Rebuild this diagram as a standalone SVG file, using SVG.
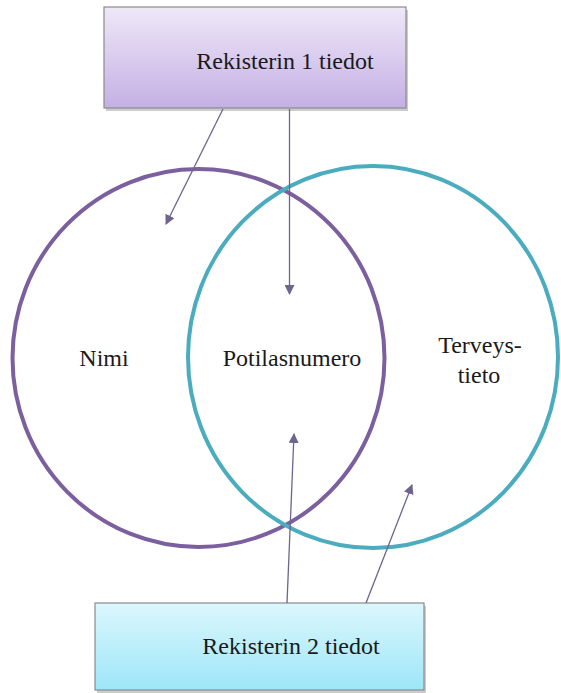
<svg xmlns="http://www.w3.org/2000/svg" width="561" height="693" viewBox="0 0 561 693">
<defs>
<linearGradient id="g1" x1="0" y1="0" x2="0" y2="1">
<stop offset="0" stop-color="#efe8f8"/><stop offset="1" stop-color="#c4b0e4"/>
</linearGradient>
<linearGradient id="g2" x1="0" y1="0" x2="0" y2="1">
<stop offset="0" stop-color="#dcf7fd"/><stop offset="1" stop-color="#9de6f8"/>
</linearGradient>
<marker id="ah" viewBox="0 0 10 10" refX="9" refY="5" markerWidth="10" markerHeight="10" markerUnits="userSpaceOnUse" orient="auto">
<path d="M0,0 L10,5 L0,10 z" fill="#6e6490"/>
</marker>
<style>
.t{font-size:24px;fill:#1a1a1a;text-anchor:middle}
.box{stroke:#8a8a8a;stroke-width:1.2}
.shadow{fill:#9a9a9a;opacity:0.5}
.conn{stroke:#6e6490;stroke-width:1.3;fill:none}
</style>
</defs>
<g id="circle-purple">
<ellipse cx="198.5" cy="358" rx="186" ry="189" fill="none" stroke="#7b5f9e" stroke-width="4"/>
</g>
<g id="circle-teal">
<ellipse cx="373" cy="357" rx="185" ry="191" fill="none" stroke="#4cacbf" stroke-width="4"/>
</g>
<g font-family="'Liberation Serif', 'Times New Roman', serif">
<g id="reg1">
<rect class="shadow" x="106" y="10" width="302" height="101"/>
<rect class="box" x="104" y="7" width="302" height="101" fill="url(#g1)"/>
<text class="t" x="285" y="69">Rekisterin 1 tiedot</text>
</g>
<g id="reg2">
<rect class="shadow" x="97" y="606" width="329" height="87"/>
<rect class="box" x="95" y="603" width="329" height="87" fill="url(#g2)" stroke="#7aa9b3"/>
<text class="t" x="291" y="654">Rekisterin 2 tiedot</text>
</g>
<g id="labels">
<text class="t" x="104" y="366">Nimi</text>
<text class="t" x="292" y="366">Potilasnumero</text>
<text class="t" x="480" y="353">Terveys-</text>
<text class="t" x="479" y="383">tieto</text>
</g>
</g>
<g id="connectors">
<line class="conn" x1="223" y1="109" x2="166" y2="224" marker-end="url(#ah)"/>
<line class="conn" x1="289.5" y1="109" x2="289.5" y2="294" marker-end="url(#ah)"/>
<line class="conn" x1="287" y1="603" x2="294" y2="434" marker-end="url(#ah)"/>
<line class="conn" x1="366" y1="603" x2="412" y2="485" marker-end="url(#ah)"/>
</g>
</svg>
